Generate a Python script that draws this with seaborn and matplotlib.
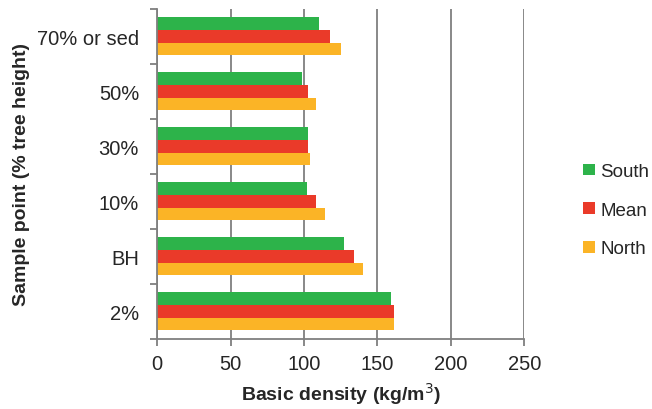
import matplotlib
matplotlib.use("Agg")
import matplotlib.pyplot as plt
import pandas as pd
import seaborn as sns
from matplotlib.ticker import FixedLocator

points = ["70% or sed", "50%", "30%", "10%", "BH", "2%"]
south = [110.5, 99, 103, 102, 127.5, 159.5]
mean = [118, 103, 103, 108, 134, 161]
north = [125, 108, 104, 114.5, 140, 161]
series = ["South", "Mean", "North"]
colors = ["#2db34a", "#ea3a29", "#fbb426"]

df = pd.DataFrame({
    "point": points * 3,
    "density": south + mean + north,
    "series": ["South"] * 6 + ["Mean"] * 6 + ["North"] * 6,
})

sns.set_theme(style="white")
plt.rcParams["font.family"] = ["Liberation Sans", "DejaVu Sans"]

fig = plt.figure(figsize=(6.52, 4.10), dpi=100)
ax = fig.add_axes([0.241, 0.171, 0.563, 0.805])

sns.barplot(data=df, y="point", x="density", hue="series", order=points,
            hue_order=series, palette=colors, orient="h", width=0.69,
            saturation=1, linewidth=0, ax=ax, legend=True)

ax.set_xlim(0, 250)
ax.set_ylim(5.5, -0.5)
ax.set_xticks([0, 50, 100, 150, 200, 250])
ax.xaxis.grid(True, color="#7f7f7f", lw=1.3)
ax.set_axisbelow(True)
for s in ["top", "right"]:
    ax.spines[s].set_visible(False)
for s in ["left", "bottom"]:
    ax.spines[s].set_color("#7f7f7f")
    ax.spines[s].set_linewidth(1.3)
ax.tick_params(axis="x", which="major", length=5, width=1.3, color="#7f7f7f",
               direction="out", bottom=True, labelsize=14.5, pad=6)
ax.tick_params(axis="y", which="major", length=0, labelsize=14.5, pad=13)
ax.yaxis.set_minor_locator(FixedLocator([-0.5, 0.5, 1.5, 2.5, 3.5, 4.5, 5.5]))
ax.tick_params(axis="y", which="minor", length=5, width=1.3, color="#7f7f7f",
               direction="out", left=True)

ax.set_xlabel("Basic density (kg/m$^3$)", fontsize=14, fontweight="bold", labelpad=5)
ax.set_ylabel("Sample point (% tree height)", fontsize=14, fontweight="bold")
ax.yaxis.set_label_coords(-0.345, 0.5)

handles, labels = ax.get_legend_handles_labels()
ax.legend(handles, labels, loc="center left", bbox_to_anchor=(1.115, 0.39),
          frameon=False, fontsize=13.5, handlelength=0.6, handleheight=0.6,
          handletextpad=0.3, labelspacing=1.15)

fig.savefig("out.png", dpi=100)
